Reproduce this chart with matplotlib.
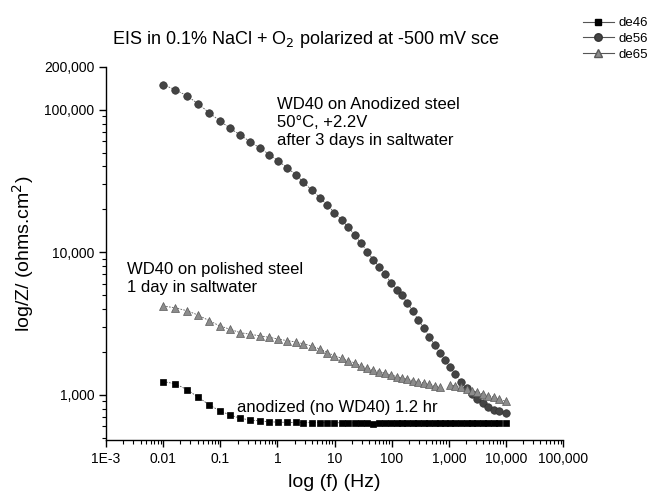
import matplotlib
matplotlib.use('Agg')
import matplotlib.pyplot as plt
import matplotlib.ticker as mticker
from matplotlib.lines import Line2D
import numpy as np

plt.rcParams['font.family'] = ['Liberation Sans', 'DejaVu Sans']

# frequencies (Hz), shared by the three scans
freq = [0.01, 0.0162, 0.026, 0.0405, 0.0638, 0.0966, 0.149, 0.222, 0.333, 0.499,
        0.723, 1.04, 1.46, 2.10, 2.85, 3.99, 5.57, 7.48, 9.92, 13.4,
        17.4, 22.8, 29.0, 37.5, 47.7, 60.8, 76.4, 96.2, 122, 150,
        188, 233, 292, 367, 455, 566, 700, 857, 1047, 1282,
        1612, 2051, 2510, 3145, 3909, 4897, 6166, 7638, 10000]

# |Z| in ohms.cm^2
z_de46 = [1240, 1194, 1089, 965, 851, 773, 721, 685, 666, 655,
          647, 643, 641, 640, 639, 638, 638, 637, 637, 637,
          636, 636, 636, 635, 628, 636, 636, 636, 636, 636,
          636, 636, 636, 636, 636, 636, 636, 636, 636, 636,
          636, 636, 636, 636, 636, 636, 636, 636, 636]
z_de56 = [150000, 138000, 125300, 110200, 95300, 83800, 74000, 66500, 59700, 53600,
          48500, 43600, 39300, 35000, 30900, 27300, 24100, 21400, 19000, 16800,
          14960, 13150, 11560, 10080, 8860, 7850, 7070, 6120, 5470, 5000,
          4400, 3870, 3350, 2920, 2540, 2240, 1980, 1760, 1560, 1400,
          1240, 1110, 1020, 929, 871, 820, 785, 767, 741]
z_de65 = [4190, 4080, 3890, 3630, 3310, 3050, 2880, 2730, 2660, 2590,
          2530, 2460, 2400, 2350, 2280, 2200, 2090, 1980, 1880, 1805,
          1740, 1670, 1595, 1537, 1495, 1455, 1418, 1380, 1343, 1309,
          1288, 1259, 1239, 1213, 1188, 1156, 1132, np.nan, 1175, 1156,
          1132, 1101, 1072, 1044, 1016, 989, 964, 933, 898]

labels = ['de46', 'de56', 'de65']

fig = plt.figure(figsize=(6.51, 4.93), dpi=100)
ax = fig.add_axes([0.163, 0.1075, 0.702, 0.757])

line_kw = dict(linestyle=(0, (2, 1.5)), linewidth=0.6, color='#555555')
ax.plot(freq, z_de46, marker='s', markersize=4.3, markerfacecolor='black',
        markeredgecolor='black', markeredgewidth=0.5, **line_kw)
ax.plot(freq, z_de56, marker='o', markersize=5.4, markerfacecolor='#444444',
        markeredgecolor='#333333', markeredgewidth=0.5, **line_kw)
ax.plot(freq, z_de65, marker='^', markersize=6, markerfacecolor='#8c8c8c',
        markeredgecolor='#5a5a5a', markeredgewidth=0.5, **line_kw)

ax.set_xscale('log')
ax.set_yscale('log')
ax.set_xlim(1e-3, 1e5)
ax.set_ylim(482, 200000)

def xfmt(v, pos):
    if abs(v - 1e-3) < 1e-9:
        return '1E-3'
    if v < 1:
        return f'{v:g}'
    return f'{v:,.0f}'

ax.xaxis.set_major_locator(mticker.LogLocator(base=10, numticks=20))
ax.xaxis.set_minor_locator(mticker.LogLocator(base=10, subs=np.arange(2, 10), numticks=20))
ax.xaxis.set_major_formatter(mticker.FuncFormatter(xfmt))
ax.xaxis.set_minor_formatter(mticker.NullFormatter())

ax.yaxis.set_major_locator(mticker.FixedLocator([1000, 10000, 100000, 200000]))
ax.yaxis.set_minor_locator(mticker.LogLocator(base=10, subs=np.arange(2, 10), numticks=20))
ax.yaxis.set_major_formatter(mticker.FuncFormatter(lambda v, p: f'{v:,.0f}'))
ax.yaxis.set_minor_formatter(mticker.NullFormatter())

for s in ['top', 'right']:
    ax.spines[s].set_visible(False)
for s in ['left', 'bottom']:
    ax.spines[s].set_linewidth(1.0)
ax.tick_params(which='major', direction='out', length=5, width=1, labelsize=10, colors='black')
ax.tick_params(which='minor', direction='out', length=3, width=0.8)

ax.set_xlabel('log (f) (Hz)', fontsize=14, labelpad=6)
ax.set_ylabel('log/Z/ (ohms.cm$^2$)', fontsize=14, labelpad=6)

fig.text(0.469, 0.919, 'EIS in 0.1% NaCl + O$_2$ polarized at -500 mV sce',
         ha='center', va='center', fontsize=13)

ax.text(0.374, 0.852, 'WD40 on Anodized steel\n50°C, +2.2V\nafter 3 days in saltwater',
        transform=ax.transAxes, ha='left', va='center', fontsize=12, linespacing=1.25)
ax.text(0.046, 0.434, 'WD40 on polished steel\n1 day in saltwater',
        transform=ax.transAxes, ha='left', va='center', fontsize=12, linespacing=1.25)
ax.text(0.287, 0.088, 'anodized (no WD40) 1.2 hr',
        transform=ax.transAxes, ha='left', va='center', fontsize=12)

handles = [
    Line2D([], [], color='#555555', lw=0.8, marker='s', markersize=4.3,
           markerfacecolor='black', markeredgecolor='black'),
    Line2D([], [], color='#555555', lw=0.8, marker='o', markersize=5.4,
           markerfacecolor='#444444', markeredgecolor='#333333'),
    Line2D([], [], color='#555555', lw=0.8, marker='^', markersize=6,
           markerfacecolor='#8c8c8c', markeredgecolor='#5a5a5a'),
]
fig.legend(handles, labels, loc='upper left', bbox_to_anchor=(0.895, 0.965),
           frameon=False, fontsize=9.5, handlelength=2.4, handletextpad=0.3,
           labelspacing=0.25, borderpad=0, borderaxespad=0)

fig.savefig('out.png', dpi=100)
